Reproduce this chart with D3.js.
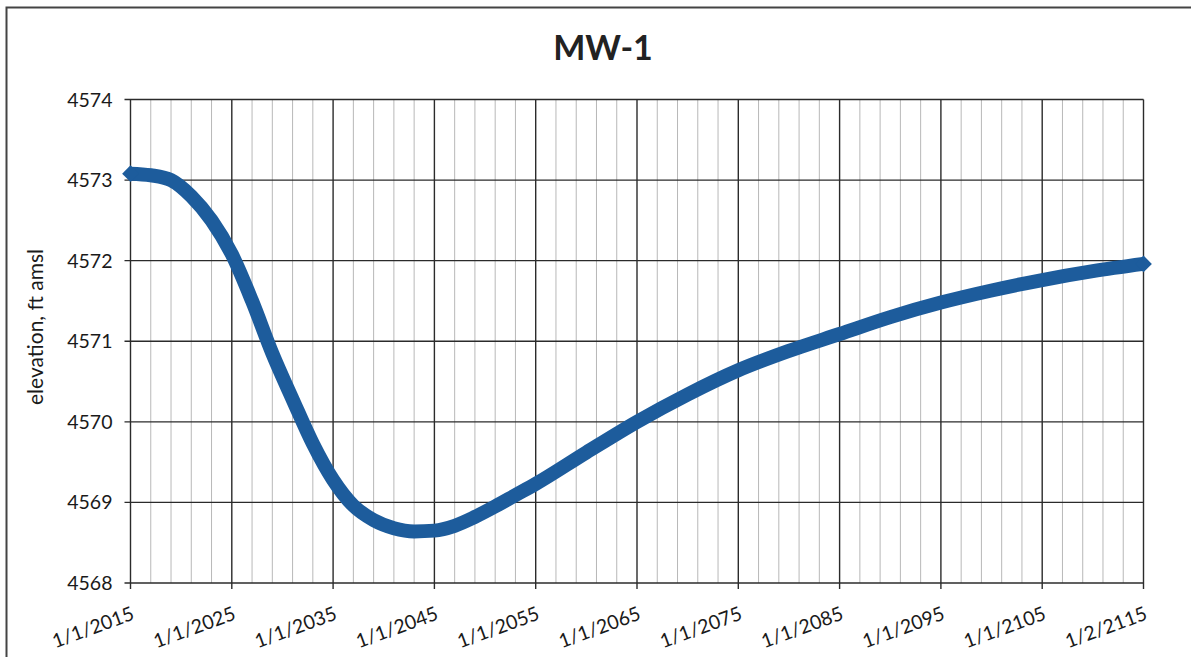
<!DOCTYPE html>
<html>
<head>
<meta charset="utf-8">
<script src="https://cdn.jsdelivr.net/npm/d3@7/dist/d3.min.js"></script>
<style>
  body { margin: 0; background: #fff; }
  svg { display: block; font-family: Lato, "Open Sans", sans-serif; }
</style>
</head>
<body>
<div id="chart"></div>
<script>
// readings off the MW-1 hydrograph (year, ft amsl)
const years = [2015, 2017, 2019, 2021, 2023, 2025, 2027, 2029, 2031, 2033, 2035,
               2037, 2039, 2041, 2043, 2045, 2047, 2049, 2051, 2053, 2055,
               2060, 2065, 2070, 2075, 2080, 2085, 2090, 2095, 2100, 2105, 2110, 2115];
const elevation = [4573.08, 4573.06, 4573.00, 4572.80, 4572.50, 4572.08, 4571.50, 4570.85, 4570.28, 4569.73, 4569.28,
                   4568.96, 4568.78, 4568.68, 4568.64, 4568.65, 4568.71, 4568.82, 4568.95, 4569.09, 4569.23,
                   4569.62, 4570.00, 4570.34, 4570.64, 4570.88, 4571.09, 4571.30, 4571.48, 4571.63, 4571.76, 4571.87, 4571.96];

const xTickYears = [2015, 2025, 2035, 2045, 2055, 2065, 2075, 2085, 2095, 2105, 2115];
const xTickLabels = ["1/1/2015", "1/1/2025", "1/1/2035", "1/1/2045", "1/1/2055", "1/1/2065",
                     "1/1/2075", "1/1/2085", "1/1/2095", "1/1/2105", "1/2/2115"];
const yTicks = [4568, 4569, 4570, 4571, 4572, 4573, 4574];

renderChart();

function renderChart() {
    const width = 1191;
    const height = 657;
    const margin = {top: 99.5, bottom: 74, left: 130.5, right: 47.5};

    const svg = d3.select("#chart")
        .append("svg")
        .attr("width", width)
        .attr("height", height);

    // outer chart frame (runs off the right and bottom edge in the scan)
    svg.append("rect")
        .attr("x", 6.5).attr("y", 7.5)
        .attr("width", width + 20).attr("height", height + 20)
        .attr("fill", "none")
        .attr("stroke", "#444")
        .attr("stroke-width", 2);

    const x = d3.scaleLinear()
        .domain([2015, 2115])
        .range([margin.left, width - margin.right]);

    const y = d3.scaleLinear()
        .domain([4568, 4574])
        .range([height - margin.bottom, margin.top]);

    // minor vertical grid, every 2 years
    svg.append("g")
        .selectAll("line")
        .data(d3.range(2015, 2116, 2).filter(v => (v - 2015) % 10 !== 0))
        .join("line")
        .attr("x1", d => x(d)).attr("x2", d => x(d))
        .attr("y1", y(4574)).attr("y2", y(4568))
        .attr("stroke", "#b8b8b8")
        .attr("stroke-width", 1);

    // major grid
    svg.append("g")
        .selectAll("line")
        .data(xTickYears)
        .join("line")
        .attr("x1", d => x(d)).attr("x2", d => x(d))
        .attr("y1", y(4574)).attr("y2", y(4568) + 6)
        .attr("stroke", "#2b2b2b")
        .attr("stroke-width", 1.4);

    svg.append("g")
        .selectAll("line")
        .data(yTicks)
        .join("line")
        .attr("x1", x(2015) - 6).attr("x2", x(2115))
        .attr("y1", d => y(d)).attr("y2", d => y(d))
        .attr("stroke", "#2b2b2b")
        .attr("stroke-width", 1.4);

    // y tick labels
    svg.append("g")
        .selectAll("text")
        .data(yTicks)
        .join("text")
        .attr("x", x(2015) - 18)
        .attr("y", d => y(d))
        .attr("dy", "0.36em")
        .attr("text-anchor", "end")
        .attr("font-size", "19.5px")
        .attr("fill", "#1a1a1a")
        .text(d => d);

    // x tick labels, tilted
    svg.append("g")
        .selectAll("text")
        .data(xTickYears)
        .join("text")
        .attr("transform", d => `translate(${x(d) + 5}, 619) rotate(-20)`)
        .attr("text-anchor", "end")
        .attr("font-size", "19.5px")
        .attr("fill", "#1a1a1a")
        .text((d, i) => xTickLabels[i]);

    // series
    const points = years.map((yr, i) => ({year: yr, value: elevation[i]}));

    const line = d3.line()
        .x(d => x(d.year))
        .y(d => y(d.value))
        .curve(d3.curveMonotoneX);

    svg.append("path")
        .datum(points)
        .attr("d", line)
        .attr("fill", "none")
        .attr("stroke", "#1d5c9c")
        .attr("stroke-width", 14)
        .attr("stroke-linejoin", "round");

    // diamond markers only show past the line at its two ends
    svg.append("g")
        .selectAll("path")
        .data([points[0], points[points.length - 1]])
        .join("path")
        .attr("d", d3.symbol(d3.symbolSquare, 140))
        .attr("transform", d => `translate(${x(d.year)}, ${y(d.value)}) rotate(45)`)
        .attr("fill", "#1d5c9c");

    // title and axis title
    svg.append("text")
        .attr("x", 603)
        .attr("y", 60)
        .attr("text-anchor", "middle")
        .attr("font-size", "34px")
        .attr("font-weight", "bold")
        .attr("fill", "#222")
        .text("MW-1");

    svg.append("text")
        .attr("transform", `translate(43, 327) rotate(-90)`)
        .attr("text-anchor", "middle")
        .attr("font-size", "21px")
        .attr("fill", "#1a1a1a")
        .text("elevation, ft amsl");
}
</script>
</body>
</html>
